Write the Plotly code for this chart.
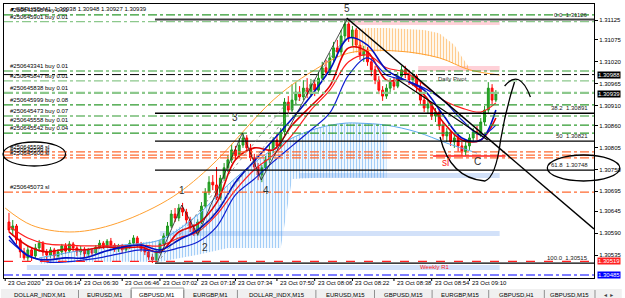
import plotly.graph_objects as go

# ---------------- DATA ----------------
title_text = "\u25be GBPUSD,M1  1.30938 1.30948 1.30927 1.30939"
BASE = 1.30000  # prices below are in points (1e-5) above BASE

opens = [618, 598, 608, 573, 543, 528, 548, 533, 553, 565,
         543, 535, 548, 533, 543, 558, 545, 563, 553, 543,
         550, 538, 548, 540, 555, 565, 558, 570, 560, 550,
         558, 548, 555, 565, 578, 563, 550, 543, 530, 523,
         543, 563, 583, 608, 638, 628, 653, 643, 623, 603,
         590, 618, 658, 693, 718, 711, 678, 728, 754, 774,
         799, 784, 811, 829, 804, 779, 756, 736, 754, 774,
         799, 824, 809, 844, 919, 899, 924, 944, 932, 954,
         939, 964, 949, 979, 1005, 994, 1030, 1055, 1045, 1085,
         1115, 1080, 1100, 1062, 1037, 1050, 1020, 1000, 974, 949,
         934, 954, 969, 959, 984, 1000, 989, 974, 984, 959,
         924, 904, 914, 884, 894, 859, 834, 844, 819, 829,
         809, 794, 809, 829, 844, 839, 869, 899, 954, 924]
closes = [598, 608, 573, 543, 528, 548, 533, 553, 565, 543,
          535, 548, 533, 543, 558, 545, 563, 553, 543, 550,
          538, 548, 540, 555, 565, 558, 570, 560, 550, 558,
          548, 555, 565, 578, 563, 550, 543, 530, 523, 543,
          563, 583, 608, 638, 628, 653, 643, 623, 603, 590,
          618, 658, 693, 718, 711, 678, 728, 754, 774, 799,
          784, 811, 829, 804, 779, 756, 736, 754, 774, 799,
          824, 809, 844, 919, 899, 924, 944, 932, 954, 939,
          964, 949, 979, 1005, 994, 1030, 1055, 1045, 1085, 1115,
          1080, 1100, 1062, 1037, 1050, 1020, 1000, 974, 949, 934,
          954, 969, 959, 984, 1000, 989, 974, 984, 959, 924,
          904, 914, 884, 894, 859, 834, 844, 819, 829, 809,
          794, 809, 829, 844, 839, 869, 899, 954, 924, 939]
highs = [641, 623, 613, 578, 553, 558, 555, 563, 573, 570,
         550, 555, 553, 550, 563, 565, 570, 568, 560, 558,
         555, 553, 553, 560, 573, 570, 575, 578, 565, 563,
         563, 560, 573, 585, 583, 568, 555, 548, 538, 548,
         573, 590, 618, 648, 653, 663, 666, 651, 631, 613,
         625, 668, 703, 733, 736, 756, 736, 766, 786, 814,
         809, 829, 841, 836, 814, 789, 766, 761, 784, 811,
         831, 839, 854, 929, 934, 964, 969, 959, 974, 979,
         977, 974, 994, 1020, 1025, 1042, 1070, 1075, 1100, 1126,
         1125, 1110, 1105, 1075, 1060, 1057, 1030, 1010, 984, 959,
         964, 979, 982, 994, 1010, 1010, 1000, 994, 989, 969,
         934, 924, 919, 904, 899, 869, 854, 849, 839, 841,
         819, 824, 839, 854, 859, 879, 909, 969, 964, 949]
lows = [593, 583, 563, 528, 523, 518, 520, 525, 543, 533,
        523, 528, 525, 528, 535, 538, 540, 543, 533, 535,
        530, 530, 533, 535, 550, 550, 553, 553, 543, 543,
        540, 543, 550, 560, 555, 543, 535, 523, 515, 518,
        538, 558, 578, 603, 618, 620, 633, 613, 593, 583,
        583, 613, 653, 686, 698, 673, 673, 721, 743, 766,
        774, 779, 804, 796, 771, 749, 723, 718, 746, 766,
        791, 801, 804, 836, 892, 894, 914, 922, 924, 929,
        932, 934, 942, 972, 984, 987, 1020, 1032, 1037, 1075,
        1070, 1060, 1055, 1025, 1020, 1010, 984, 964, 939, 922,
        927, 944, 949, 954, 974, 979, 962, 959, 944, 914,
        894, 889, 874, 869, 849, 824, 819, 809, 804, 794,
        784, 784, 799, 819, 824, 831, 861, 889, 914, 919]

# indicator lines at sample bars (points above BASE)
ma_bars = [0, 5, 10, 15, 20, 25, 30, 35, 40, 45, 50, 55, 60, 65, 70, 75, 80, 85, 90, 95, 100, 105, 110, 115, 120, 125, 129]
red_fast = [593, 558, 543, 550, 548, 555, 553, 555, 543, 593, 613, 666, 774, 804, 799, 861, 909, 959, 1055, 1045, 974, 974, 937, 869, 824, 824, 879]
red_slow = [608, 578, 563, 560, 558, 558, 558, 560, 558, 578, 593, 636, 698, 749, 786, 836, 899, 949, 1020, 1037, 1005, 994, 962, 924, 904, 894, 917]
blue_fast = [583, 533, 523, 528, 528, 543, 555, 560, 548, 573, 598, 643, 718, 771, 824, 877, 934, 1000, 1080, 1062, 1000, 974, 949, 887, 829, 824, 899]
blue_slow = [573, 535, 518, 518, 523, 530, 540, 548, 543, 553, 568, 606, 686, 726, 769, 809, 849, 892, 987, 1030, 987, 974, 954, 924, 874, 836, 861]

lblue_bars = [8, 20, 30, 40, 50, 58, 66, 74, 82, 89, 93, 100, 108, 116, 124]
lblue_line = [528, 548, 560, 573, 636, 711, 774, 824, 854, 866, 866, 861, 844, 816, 791]

cloud_b_bars = [8, 20, 30, 40, 50, 58, 66, 72, 75, 82, 89, 93, 100]
cloud_b_top = [528, 548, 560, 573, 636, 711, 774, 811, 829, 854, 866, 866, 861]
cloud_b_bot = [513, 518, 518, 518, 536, 553, 553, 553, 726, 729, 729, 729, 729]

orange_bars = [-1, 6, 16, 27, 42, 53, 70, 80, 90, 103, 114, 122, 130]
orange_line = [653, 610, 593, 610, 673, 754, 924, 994, 1042, 1047, 1030, 1000, 987]

cloud_o_bars = [91, 95, 100, 105, 110, 114, 118, 120, 122]
cloud_o_top = [1100, 1105, 1105, 1102, 1100, 1092, 1062, 1032, 1005]
cloud_o_bot = [1042, 1045, 1047, 1045, 1037, 1030, 1015, 1007, 1000]

price_ticks = [1.31125, 1.31075, 1.31020, 1.30965, 1.30910, 1.30860, 1.30805,
               1.30750, 1.30695, 1.30645, 1.30590, 1.30535]

order_levels = [1.31138, 1.31121, 1.30997, 1.30972, 1.30942, 1.30912, 1.30884, 1.30861, 1.30841]
order_labels = ["#250643338 buy 0.01", "#250645901 buy 0.01", "#250643341 buy 0.01",
                "#250645847 buy 0.01", "#250645838 buy 0.01", "#250645999 buy 0.08",
                "#250645473 buy 0.07", "#250645558 buy 0.01", "#250645542 buy 0.04"]
sl_levels = [1.30794, 1.30786, 1.30779, 1.30693]
sl_labels = ["#250645598 sl", "#250645599 sl", "#250645600 sl", "#250645073 sl"]

fib_levels = [1.31126, 1.30891, 1.30821, 1.30748, 1.30515]
fib_names = ["0.0", "38.2", "50", "61.8", "100.0"]

time_bars = [-1, 9, 19, 30, 40, 50, 60, 71, 81, 91, 102, 112, 122]
time_labels = ["23 Oct 2020", "23 Oct 06:14", "23 Oct 06:30", "23 Oct 06:46", "23 Oct 07:02",
               "23 Oct 07:18", "23 Oct 07:34", "23 Oct 07:50", "23 Oct 08:06", "23 Oct 08:22",
               "23 Oct 08:38", "23 Oct 08:54", "23 Oct 09:10"]

tab_names = ["DOLLAR_INDX,M1", "EURUSD,M1", "GBPUSD,M1", "EURGBP,M1", "DOLLAR_INDX,M15",
             "EURUSD,M15", "GBPUSD,M15", "EURGBP,M15", "GBPUSD,H1", "GBPUSD,M15"]

# ---------------- GEOMETRY HELPERS ----------------
W, H = 625, 298
PL, PR, PT_, PB = 3, 597, 4, 278
SPB = 3.8        # px per bar
X0PX = 8         # px of bar 0
PPX = 39844.0    # px per price unit
REFP, REFY = 1.31125, 20


def bx(px):
    return (px - X0PX) / SPB


def pr(py):
    return REFP - (py - REFY) / PPX


def xp(px):
    return (px - PL) / (PR - PL)


def yp(py):
    return (PB - py) / (PB - PT_)


def P(v):
    return [BASE + x * 1e-5 for x in v]


FONT = "Liberation Sans"
fig = go.Figure()

# clouds (vertical hatch)
fig.add_trace(go.Scatter(x=cloud_b_bars, y=P(cloud_b_bot), mode="lines", line=dict(width=0),
                         hoverinfo="skip"))
fig.add_trace(go.Scatter(x=cloud_b_bars, y=P(cloud_b_top), mode="lines", line=dict(width=0),
                         fill="tonexty", fillcolor="rgba(0,0,0,0)",
                         fillpattern=dict(shape="|", fgcolor="#4a9ef0", bgcolor="rgba(0,0,0,0)",
                                          size=3, solidity=0.45),
                         hoverinfo="skip"))
fig.add_trace(go.Scatter(x=cloud_o_bars, y=P(cloud_o_bot), mode="lines", line=dict(width=0),
                         hoverinfo="skip"))
fig.add_trace(go.Scatter(x=cloud_o_bars, y=P(cloud_o_top), mode="lines", line=dict(width=0),
                         fill="tonexty", fillcolor="rgba(0,0,0,0)",
                         fillpattern=dict(shape="|", fgcolor="#ff9a20", bgcolor="rgba(0,0,0,0)",
                                          size=3, solidity=0.45),
                         hoverinfo="skip"))

# rectangles / bands (below)
shapes = []


def band(x0, x1, y0, y1, color):
    shapes.append(dict(type="rect", xref="x", yref="y", x0=bx(x0), x1=bx(x1), y0=pr(y0), y1=pr(y1),
                       fillcolor=color, line=dict(width=0), layer="below"))


band(26, 502, 265, 270, "rgba(180,205,245,0.6)")
band(160, 502, 231, 236, "rgba(180,205,245,0.6)")
band(300, 502, 173, 178, "rgba(180,205,245,0.6)")
band(353, 502, 21, 25, "rgba(255,190,200,0.7)")
band(420, 502, 66, 71, "rgba(255,190,200,0.7)")

# indicator lines
fig.add_trace(go.Scatter(x=orange_bars, y=P(orange_line), mode="lines",
                         line=dict(color="#ffa030", width=1, shape="spline"), hoverinfo="skip"))
fig.add_trace(go.Scatter(x=lblue_bars, y=P(lblue_line), mode="lines",
                         line=dict(color="#5aa8ec", width=1, shape="spline"), hoverinfo="skip"))

# candles
fig.add_trace(go.Candlestick(x=list(range(len(closes))), open=P(opens), high=P(highs), low=P(lows),
                             close=P(closes),
                             increasing=dict(line=dict(color="#1e961e", width=1), fillcolor="#2ab02a"),
                             decreasing=dict(line=dict(color="#ff0000", width=1), fillcolor="#ff2020"),
                             whiskerwidth=0, hoverinfo="skip"))

for vals, col, w in [(red_slow, "#ff2020", 1.2), (red_fast, "#e00000", 1.6),
                     (blue_slow, "#1020d0", 1.2), (blue_fast, "#0010c0", 1.6)]:
    fig.add_trace(go.Scatter(x=ma_bars, y=P(vals), mode="lines",
                             line=dict(color=col, width=w, shape="spline"), hoverinfo="skip"))

# horizontal levels
for i, lv in enumerate(order_levels):
    col = "#2e9a2e" if i not in (1, 3, 4) else "#8cc88c"
    wd = 1.2 if i != 4 else 2.2
    shapes.append(dict(type="line", xref="paper", yref="y", x0=0, x1=1, y0=lv, y1=lv,
                       line=dict(color=col, width=wd, dash="dashdot")))
for lv in sl_levels:
    shapes.append(dict(type="line", xref="paper", yref="y", x0=0, x1=1, y0=lv, y1=lv,
                       line=dict(color="#ff6a30", width=1.3, dash="dashdot")))
shapes.append(dict(type="line", xref="paper", yref="y", x0=0, x1=1, y0=1.30988, y1=1.30988,
                   line=dict(color="#000000", width=1, dash="dashdot")))
shapes.append(dict(type="line", xref="paper", yref="y", x0=0, x1=1, y0=1.30519, y1=1.30519,
                   line=dict(color="#ff2020", width=1.2, dash="dash")))
shapes.append(dict(type="line", xref="paper", yref="y", x0=0, x1=1, y0=1.30485, y1=1.30485,
                   line=dict(color="#0000ff", width=1.2, dash="dashdot")))
for k, lv in enumerate(fib_levels):
    shapes.append(dict(type="line", xref="x", yref="y", x0=bx(155), x1=bx(597), y0=lv, y1=lv,
                       line=dict(color="#404040" if k == 0 else "#000000", width=2 if k == 0 else 1.3)))

# trend lines and wave zigzag
shapes.append(dict(type="line", xref="x", yref="y", x0=bx(348), y0=pr(18), x1=bx(597), y1=pr(229),
                   line=dict(color="#000000", width=1.5)))
shapes.append(dict(type="line", xref="x", yref="y", x0=bx(400), y0=pr(80), x1=bx(490), y1=pr(140),
                   line=dict(color="#000000", width=1.2)))
zig = [(157, 263), (182, 205), (198, 235), (243, 133), (262, 180), (348, 20)]
for a, b in zip(zig[:-1], zig[1:]):
    shapes.append(dict(type="line", xref="x", yref="y", x0=bx(a[0]), y0=pr(a[1]), x1=bx(b[0]), y1=pr(b[1]),
                       line=dict(color="#202020", width=0.8)))
for a, b in [((157, 263), (290, 100)), ((198, 235), (345, 40))]:
    shapes.append(dict(type="line", xref="x", yref="y", x0=bx(a[0]), y0=pr(a[1]), x1=bx(b[0]), y1=pr(b[1]),
                       line=dict(color="#808080", width=0.8, dash="dot")))
# short red stop line
shapes.append(dict(type="line", xref="x", yref="y", x0=bx(435), y0=pr(156), x1=bx(508), y1=pr(156),
                   line=dict(color="#ff2020", width=1.5)))


# hand-drawn curves
def path(pts):
    s = "M %.4f %.6f" % (bx(pts[0][0]), pr(pts[0][1]))
    for i in range(1, len(pts) - 1, 2):
        s += " Q %.4f %.6f %.4f %.6f" % (bx(pts[i][0]), pr(pts[i][1]), bx(pts[i + 1][0]), pr(pts[i + 1][1]))
    return s


shapes.append(dict(type="path", xref="x", yref="y",
                   path=path([(442, 137), (452, 178), (487, 181), (498, 178), (503, 140), (508, 110), (517, 82)]),
                   line=dict(color="#000000", width=1.3)))
shapes.append(dict(type="path", xref="x", yref="y",
                   path=path([(507, 86), (522, 68), (533, 97)]),
                   line=dict(color="#000000", width=1.3)))

# ellipses
shapes.append(dict(type="circle", xref="paper", yref="paper", x0=xp(2), x1=xp(65), y0=yp(166), y1=yp(142),
                   line=dict(color="#000000", width=1.3)))
shapes.append(dict(type="circle", xref="paper", yref="paper", x0=xp(550), x1=xp(623), y0=yp(181), y1=yp(155),
                   line=dict(color="#000000", width=1.3)))

# time ticks
for tb in time_bars:
    shapes.append(dict(type="line", xref="x", yref="paper", x0=tb, x1=tb, y0=0, y1=-3 / 274,
                       line=dict(color="#000000", width=1)))

# tab row
shapes.append(dict(type="rect", xref="paper", yref="paper", x0=xp(0), x1=xp(625), y0=yp(298), y1=yp(289),
                   fillcolor="#f0f0f0", line=dict(width=0)))
tab_edges = [0, 78, 131, 184, 238, 317, 376, 434, 491, 547, 598]
shapes.append(dict(type="rect", xref="paper", yref="paper", x0=xp(131), x1=xp(184), y0=yp(299), y1=yp(288),
                   fillcolor="#ffffff", line=dict(color="#a0a0a0", width=1)))
for e in tab_edges[1:]:
    shapes.append(dict(type="line", xref="paper", yref="paper", x0=xp(e), x1=xp(e), y0=yp(298), y1=yp(290),
                       line=dict(color="#909090", width=1)))

ann = []


def text(x, y, s, size=6, color="#000000", xanchor="left", yanchor="middle", bg=None, xref="paper",
         yref="paper", **kw):
    d = dict(x=x, y=y, xref=xref, yref=yref, text=s, showarrow=False, xanchor=xanchor, yanchor=yanchor,
             font=dict(family=FONT, size=size, color=color))
    if bg:
        d.update(bgcolor=bg, borderpad=0)
    d.update(kw)
    ann.append(d)


text(xp(8), yp(9), title_text, size=6)
for lab, lv in zip(order_labels, order_levels):
    text(xp(7), lv, lab, size=6, yref="y", yanchor="bottom", yshift=0)
for lab, lv in zip(sl_labels, sl_levels):
    text(xp(7), lv, lab, size=6, yref="y", yanchor="bottom", yshift=0)
for nm, lv in zip(fib_names, fib_levels):
    text(xp(593), lv, "%s  %.5f" % (nm, lv), size=6, color="#202020", xanchor="right", yanchor="bottom",
         yref="y")

for tb, tl in zip(time_bars, time_labels):
    text(tb, yp(283), tl, size=6, xref="x", xshift=1)

for s, x, y in [("1", 182, 190), ("2", 205, 247), ("3", 236, 117), ("4", 267, 190), ("5", 348, 8),
                ("C", 480, 161)]:
    text(bx(x), pr(y), s, size=10, color="#303030", xanchor="center", xref="x", yref="y")
text(bx(447), pr(162), "sl", size=10, color="#ff2020", xanchor="center", xref="x", yref="y")
text(bx(438), pr(79), "Daily Pivot", size=6, color="#303030", xref="x", yref="y")
text(bx(420), pr(267), "Weekly R1", size=6, color="#ff2020", xref="x", yref="y")

for v, bg in [(1.30988, "#000000"), (1.30939, "#000000"), (1.30519, "#ff2020"), (1.30485, "#0000ff")]:
    text(1.0, v, "%.5f" % v, size=6, color="#ffffff", bg=bg, yref="y", xshift=3)

for k, nm in enumerate(tab_names):
    c = (tab_edges[k] + tab_edges[k + 1]) / 2
    text(xp(c), yp(295), nm, size=6, color="#000000", xanchor="center")
text(xp(612), yp(295), "\u25c4 \u25ba", size=5, color="#404040", xanchor="center")

fig.update_layout(
    width=W, height=H, margin=dict(l=PL, r=W - PR, t=PT_, b=H - PB),
    paper_bgcolor="#ffffff", plot_bgcolor="#ffffff", showlegend=False,
    shapes=shapes, annotations=ann,
    xaxis=dict(range=[bx(PL), bx(PR)], showgrid=False, zeroline=False, showticklabels=False, ticks="",
               showline=True, mirror=True, linecolor="#000000", linewidth=1, rangeslider=dict(visible=False),
               fixedrange=True),
    yaxis=dict(range=[pr(PB), pr(PT_)], side="right", showgrid=False, zeroline=False,
               tickvals=price_ticks, ticktext=["%.5f" % v for v in price_ticks], ticks="outside", ticklen=3,
               tickcolor="#000000", tickfont=dict(family=FONT, size=6, color="#000000"),
               showline=True, mirror=True, linecolor="#000000", linewidth=1, fixedrange=True),
    font=dict(family=FONT),
)

fig.write_html("out.html")
